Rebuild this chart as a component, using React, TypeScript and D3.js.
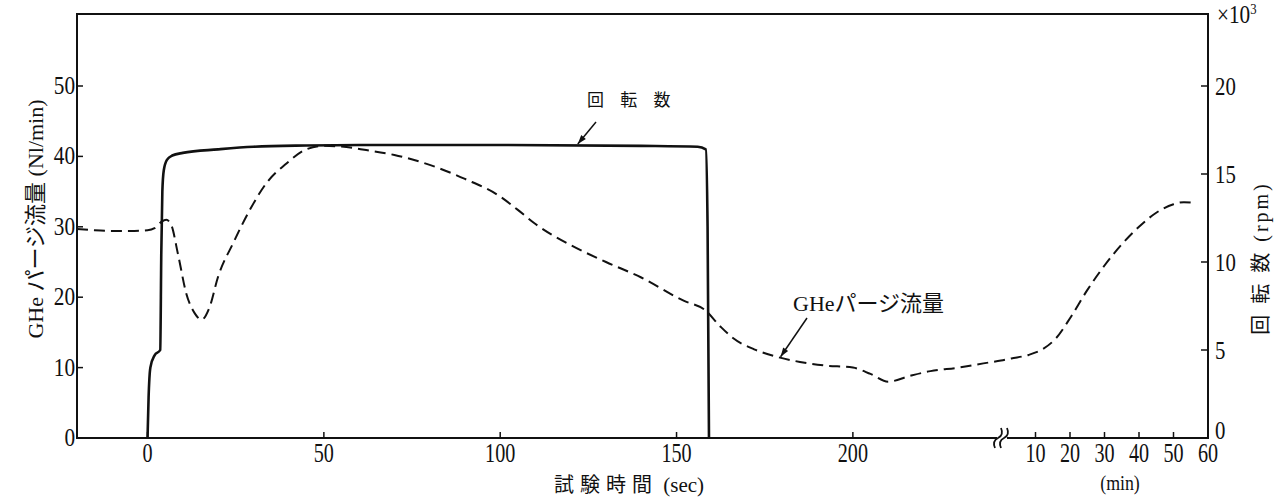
import React, { useEffect, useRef } from 'react';
import * as d3 from 'd3';

// rotational speed (x10^3 rpm) vs test time (sec)
const rpmSec: [number, number][] = [
  [0, 0], [0.3, 2.3], [0.8, 4.0], [2.0, 4.7], [3.6, 5.0], [3.9, 10.5], [4.2, 14.0],
  [4.6, 15.2], [5.5, 15.8], [7, 16.05], [10, 16.2], [20, 16.4], [30, 16.55], [45, 16.62],
  [60, 16.65], [100, 16.65], [140, 16.6], [156, 16.55], [158.3, 16.4], [158.8, 12], [159.2, 0],
];

// GHe purge flow (Nl/min) vs test time (sec)
const flowSec: [number, number][] = [
  [-20, 29.7], [-15, 29.5], [-10, 29.4], [-5, 29.4], [0, 29.5], [2, 29.8], [3.9, 30.7],
  [5.3, 31.0], [6.7, 30.3], [8.6, 26.2], [11, 20.5], [13.4, 17.7], [15.3, 16.8], [17.6, 18.6],
  [20, 22.9], [24.3, 27.7], [29, 32.4], [33.7, 36.2], [39.4, 39.0], [45, 41.0], [50, 41.5],
  [55, 41.4], [62, 40.9], [70, 40.2], [80, 38.8], [90, 36.8], [100, 34.3], [105, 32.4],
  [110, 30.4], [120, 27.4], [130, 25.0], [140, 22.8], [152, 19.5], [158, 18.2], [162.5, 15.8],
  [166, 14.2], [172, 12.6], [178, 11.6], [185, 10.8], [192, 10.3], [200, 10.0], [205, 9.1],
  [210, 8.0], [216, 8.8], [222, 9.5], [230, 10.0], [237, 10.6], [242, 11.0],
];

// GHe purge flow (Nl/min) vs time after break (min)
const flowMin: [number, number][] = [
  [3, 11.3], [8, 11.8], [12, 12.6], [16, 14.2], [20, 17], [25, 21], [30, 24.5],
  [35, 27.5], [40, 30], [45, 32], [50, 33.2], [53, 33.5], [56, 33.4],
];

const secTicks = [0, 50, 100, 150, 200];
const minTicks = [10, 20, 30, 40, 50, 60];
const leftTicks = [0, 10, 20, 30, 40, 50];
const rightTicks = [0, 5, 10, 15, 20];

const W = 1279;
const H = 497;
const FONT = "'Liberation Serif', 'Noto Sans CJK JP', serif";

const App: React.FC = () => {
  const svgRef = useRef<SVGSVGElement>(null);

  useEffect(() => {
    if (!svgRef.current) return;
    d3.select(svgRef.current).selectAll('*').remove();
    const svg = d3.select(svgRef.current).attr('width', W).attr('height', H);

    const left = 77, right = 1208, top = 14, bottom = 438, brk = 1001;

    const xSec = d3.scaleLinear().domain([-20, 242]).range([left, brk]);
    const xMin = d3.scaleLinear().domain([0, 60]).range([brk, right]);
    const yL = d3.scaleLinear().domain([0, 50]).range([bottom, 86]);
    const yR = d3.scaleLinear().domain([0, 20]).range([bottom, 86]);

    const txt = (x: number, y: number, s: string, size: number, sx = 1, anchor = 'middle') =>
      svg.append('text')
        .attr('transform', `translate(${x},${y}) scale(${sx},1)`)
        .attr('text-anchor', anchor)
        .attr('font-family', FONT)
        .attr('font-size', size)
        .attr('fill', '#111')
        .text(s);

    // frame
    const frame = svg.append('g').attr('stroke', '#111').attr('stroke-width', 2).attr('fill', 'none');
    frame.append('path').attr('d', `M${brk - 4},${bottom}H${left}V${top}H${right}V${bottom}H${brk + 6}`);

    // axis break mark
    [0, 6].forEach(dx => {
      const p = d3.path();
      const bx = brk - 3 + dx;
      p.moveTo(bx - 3, bottom + 10);
      p.quadraticCurveTo(bx - 6, bottom + 3, bx, bottom);
      p.quadraticCurveTo(bx + 6, bottom - 3, bx + 3, bottom - 10);
      frame.append('path').attr('d', p.toString()).attr('stroke-width', 1.8);
    });

    // ticks
    const ticks = svg.append('g').attr('stroke', '#111').attr('stroke-width', 1.5);
    leftTicks.forEach(v => ticks.append('line').attr('x1', left).attr('x2', left + 6).attr('y1', yL(v)).attr('y2', yL(v)));
    rightTicks.forEach(v => ticks.append('line').attr('x1', right - 7).attr('x2', right).attr('y1', yR(v)).attr('y2', yR(v)));
    secTicks.forEach(v => ticks.append('line').attr('x1', xSec(v)).attr('x2', xSec(v)).attr('y1', bottom).attr('y2', bottom - 6));
    minTicks.forEach(v => ticks.append('line').attr('x1', xMin(v)).attr('x2', xMin(v)).attr('y1', bottom).attr('y2', bottom - 6));

    // tick labels
    leftTicks.forEach(v => txt(75, yL(v) + 8, String(v), 25, 0.85, 'end'));
    rightTicks.forEach(v => txt(1215, yR(v) + (v === 0 ? 1 : 9), String(v), 26, 0.8, 'start'));
    secTicks.forEach(v => txt(xSec(v), 462, String(v), 28, 0.72));
    minTicks.forEach(v => txt(xMin(v), 462, String(v), 28, 0.72));

    // axis titles
    svg.append('text')
      .attr('transform', `translate(43,${219}) rotate(-90)`)
      .attr('text-anchor', 'middle')
      .attr('font-family', FONT).attr('font-size', 22).attr('fill', '#111')
      .text('GHe パージ流量 (Nl/min)');
    svg.append('text')
      .attr('transform', `translate(1268,${258}) rotate(-90)`)
      .attr('text-anchor', 'middle')
      .attr('font-family', FONT).attr('font-size', 20).attr('fill', '#111')
      .attr('letter-spacing', 3)
      .text('回 転 数 (rpm)');
    const mult = txt(1217, 23, '×10', 25, 0.85, 'start');
    mult.append('tspan').attr('font-size', 15).attr('dy', -9).text('3');

    const xTitle = svg.append('text')
      .attr('x', 629).attr('y', 492).attr('text-anchor', 'middle')
      .attr('font-family', FONT).attr('font-size', 20).attr('fill', '#111');
    xTitle.append('tspan').attr('letter-spacing', 6).text('試験時間');
    xTitle.append('tspan').attr('font-size', 21).text(' (sec)');
    txt(1120, 490, '(min)', 21, 0.85);

    // curves
    const line = d3.line<[number, number]>().x(d => d[0]).y(d => d[1]).curve(d3.curveMonotoneX);
    const rpmPts = rpmSec.map(([t, v]) => [xSec(t), yR(v)] as [number, number]);
    const flowPts = flowSec.map(([t, v]) => [xSec(t), yL(v)] as [number, number])
      .concat(flowMin.map(([m, v]) => [xMin(m), yL(v)] as [number, number]));

    svg.append('path').attr('d', line(rpmPts)).attr('fill', 'none')
      .attr('stroke', '#111').attr('stroke-width', 2.6);
    svg.append('path').attr('d', line(flowPts)).attr('fill', 'none')
      .attr('stroke', '#111').attr('stroke-width', 2).attr('stroke-dasharray', '11,6');

    // annotations with arrows
    const arrow = (x0: number, y0: number, x1: number, y1: number) => {
      svg.append('line').attr('x1', x0).attr('y1', y0).attr('x2', x1).attr('y2', y1)
        .attr('stroke', '#111').attr('stroke-width', 1.5);
      const a = Math.atan2(y1 - y0, x1 - x0);
      const L = 9, w = 3;
      const bx = x1 - L * Math.cos(a), by = y1 - L * Math.sin(a);
      svg.append('path')
        .attr('d', `M${x1},${y1}L${bx + w * Math.sin(a)},${by - w * Math.cos(a)}L${bx - w * Math.sin(a)},${by + w * Math.cos(a)}Z`)
        .attr('fill', '#111');
    };
    txt(587, 106, '回 転 数', 17, 1, 'start').attr('letter-spacing', 6);
    arrow(596, 122, xSec(122), yR(16.65) - 1);
    txt(793, 311, 'GHeパージ流量', 22, 1, 'start');
    arrow(807, 318, xSec(179.5), yL(11.4) - 1);
  }, []);

  return (
    <svg ref={svgRef} style={{ position: 'absolute', left: 0, top: 0, background: '#fff' }} />
  );
};

export default App;
